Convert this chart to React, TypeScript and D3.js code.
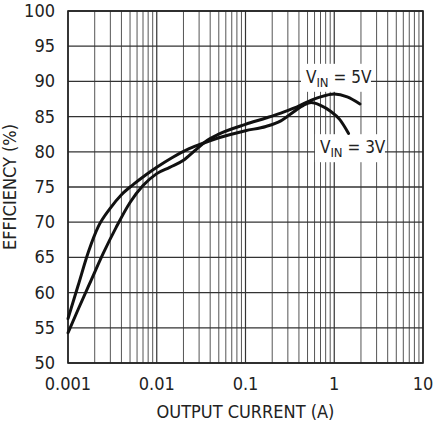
import * as d3 from 'd3';

// Output current (A) / efficiency (%)
const current5V = [0.001, 0.0013, 0.0018, 0.0025, 0.0035, 0.005, 0.007, 0.01, 0.014, 0.02, 0.027, 0.035, 0.05, 0.1, 0.17, 0.25, 0.35, 0.5, 0.7, 1.0, 1.4, 1.95];
const eff5V = [54.3, 57.6, 61.6, 65.6, 69.3, 72.8, 75.2, 76.9, 77.8, 78.8, 80.2, 81.4, 82.5, 83.9, 84.8, 85.5, 86.2, 87.1, 87.8, 88.2, 87.8, 86.8];

const current3V = [0.001, 0.0013, 0.0017, 0.0022, 0.003, 0.004, 0.0055, 0.0075, 0.01, 0.015, 0.022, 0.03, 0.05, 0.1, 0.17, 0.25, 0.35, 0.45, 0.55, 0.7, 0.9, 1.15, 1.45];
const eff3V = [56.3, 61.0, 65.8, 69.4, 72.0, 73.9, 75.4, 76.7, 77.8, 79.2, 80.3, 81.0, 82.0, 83.0, 83.6, 84.4, 85.7, 86.6, 87.0, 86.6, 85.8, 84.6, 82.6];

const xTicks = [0.001, 0.01, 0.1, 1, 10];
const xTickLabels = ['0.001', '0.01', '0.1', '1', '10'];
const yTicks = [50, 55, 60, 65, 70, 75, 80, 85, 90, 95, 100];

// series labels: [current, efficiency] where the text starts
const label5V = { text: '5V', at: [0.48, 89.8] };
const label3V = { text: '3V', at: [0.69, 79.8] };

const W = 435;
const H = 422;
const margin = { top: 11, right: 12, bottom: 59, left: 68 };
const font = "'Liberation Sans Narrow', 'DejaVu Sans Condensed', 'Arial Narrow', sans-serif";

const App = () => {
  const x = d3.scaleLog().domain([0.001, 10]).range([margin.left, W - margin.right]);
  const y = d3.scaleLinear().domain([50, 100]).range([H - margin.bottom, margin.top]);

  // minor grid: 2..9 in every decade
  const minor: number[] = [];
  for (let e = -3; e < 1; e++) {
    for (let m = 2; m <= 9; m++) minor.push(m * Math.pow(10, e));
  }

  const line = d3.line<[number, number]>()
    .x(d => x(d[0]))
    .y(d => y(d[1]))
    .curve(d3.curveMonotoneX);

  const path5 = line(current5V.map((c, i) => [c, eff5V[i]]));
  const path3 = line(current3V.map((c, i) => [c, eff3V[i]]));

  const seriesLabel = (l: { text: string; at: number[] }) => {
    const lx = x(l.at[0]);
    const ly = y(l.at[1]);
    return (
      <g key={l.text}>
        <rect x={lx - 5} y={ly - 19} width={70} height={28} fill="#fff" />
        <text x={lx} y={ly} fontSize={17} fill="#222" fontFamily={font}>
          V
          <tspan fontSize={13} dy={4}>IN</tspan>
          <tspan dy={-4}>{' = ' + l.text}</tspan>
        </text>
      </g>
    );
  };

  const x0 = margin.left;
  const x1 = W - margin.right;
  const y0 = H - margin.bottom;
  const y1 = margin.top;

  return (
    <svg width={W} height={H} style={{ position: 'absolute', left: 0, top: 0, background: '#fff' }}>
      {/* vertical grid */}
      {minor.map(v => (
        <line key={'m' + v} x1={x(v)} x2={x(v)} y1={y1} y2={y0} stroke="#555" strokeWidth={1} />
      ))}
      {xTicks.map(v => (
        <line key={'x' + v} x1={x(v)} x2={x(v)} y1={y1} y2={y0} stroke="#333" strokeWidth={1.2} />
      ))}
      {/* horizontal grid */}
      {yTicks.map(v => (
        <line key={'y' + v} x1={x0} x2={x1} y1={y(v)} y2={y(v)} stroke="#333" strokeWidth={1.3} />
      ))}

      {/* label backgrounds knock out the grid */}
      {seriesLabel(label5V)}
      {seriesLabel(label3V)}

      <rect x={x0} y={y1} width={x1 - x0} height={y0 - y1} fill="none" stroke="#222" strokeWidth={1.6} />

      <path d={path5 || ''} fill="none" stroke="#111" strokeWidth={3} strokeLinecap="round" />
      <path d={path3 || ''} fill="none" stroke="#111" strokeWidth={3} strokeLinecap="round" />

      {/* y tick labels */}
      {yTicks.map(v => (
        <text key={'yl' + v} x={x0 - 13} y={y(v) + 6} textAnchor="end" fontSize={18} fill="#222" fontFamily={font}>
          {v}
        </text>
      ))}
      {/* x tick labels */}
      {xTicks.map((v, i) => (
        <text key={'xl' + v} x={x(v)} y={y0 + 27} textAnchor="middle" fontSize={18} fill="#222" fontFamily={font}>
          {xTickLabels[i]}
        </text>
      ))}

      <text x={(x0 + x1) / 2} y={H - 4} textAnchor="middle" fontSize={18} fill="#222" fontFamily={font}>
        OUTPUT CURRENT (A)
      </text>
      <text
        transform={`translate(16,${(y0 + y1) / 2}) rotate(-90)`}
        textAnchor="middle"
        fontSize={18}
        fill="#222"
        fontFamily={font}
      >
        EFFICIENCY (%)
      </text>
    </svg>
  );
};

export default App;
